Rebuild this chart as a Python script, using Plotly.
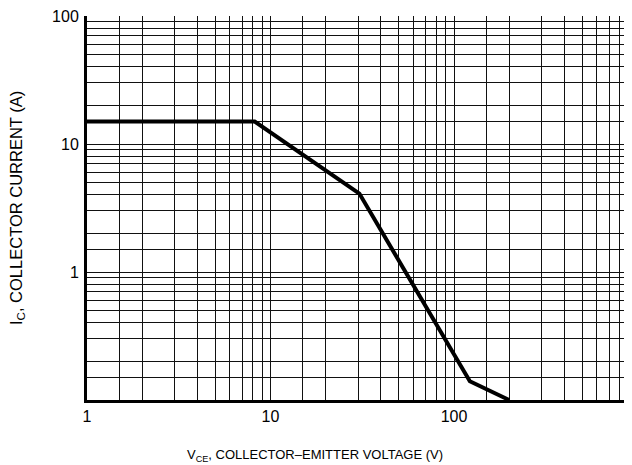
import plotly.graph_objects as go

# Safe operating area curve
vce = [1, 8.2, 30.5, 122, 200]
ic = [15, 15, 4.1, 0.14, 0.1]

# grid multipliers per decade
grid_mult = [1, 1.5, 2, 3, 4, 5, 6, 7, 8, 9]
x_decades = [1, 10, 100]
y_decades = [0.1, 1, 10, 100]
x_labels = {1: "1", 10: "10", 100: "100"}
y_labels = {1: "1", 10: "10", 100: "100"}

xvals, xtext = [], []
for d in x_decades:
    for m in grid_mult:
        xvals.append(d * m)
        xtext.append(x_labels[d] if m == 1 else "")

yvals, ytext = [], []
for d in y_decades:
    for m in grid_mult:
        v = d * m
        if v > 100:
            continue
        yvals.append(v)
        ytext.append(y_labels.get(d, "") if m == 1 else "")

FONT = "Liberation Sans, Arial, sans-serif"

fig = go.Figure()
fig.add_trace(go.Scatter(x=vce, y=ic, mode="lines",
                         line=dict(color="black", width=4), showlegend=False,
                         hoverinfo="skip"))

fig.update_layout(
    width=624, height=457,
    margin=dict(l=79, r=0, t=8, b=65),
    paper_bgcolor="white", plot_bgcolor="white",
    font=dict(family=FONT, size=16, color="black"),
    xaxis=dict(type="log", range=[0, 2.97], tickmode="array",
               tickvals=xvals, ticktext=xtext, showgrid=True,
               gridcolor="#111", gridwidth=1, showline=True,
               linecolor="black", linewidth=3, ticks="", zeroline=False,
               ticklabeloverflow="allow",
               tickfont=dict(family=FONT, size=16)),
    yaxis=dict(type="log", range=[-1, 2.0005], tickmode="array",
               tickvals=yvals, ticktext=ytext, showgrid=True,
               gridcolor="#111", gridwidth=1, showline=True,
               linecolor="black", linewidth=3, ticks="", zeroline=False,
               ticklabelstandoff=2, ticklabeloverflow="allow",
               tickfont=dict(family=FONT, size=16)),
    annotations=[
        dict(text="V<sub>CE</sub>, COLLECTOR\u2013EMITTER VOLTAGE (V)",
             xref="paper", yref="paper", x=0.418, y=0, yshift=-55,
             xanchor="center", yanchor="middle", showarrow=False,
             font=dict(family=FONT, size=13)),
        dict(text="I<sub>C</sub>, COLLECTOR CURRENT (A)",
             xref="paper", yref="paper", x=0, xshift=-70, y=0.5,
             xanchor="center", yanchor="middle", textangle=-90,
             showarrow=False, font=dict(family=FONT, size=16.5)),
    ],
)

fig.write_html("out.html")
